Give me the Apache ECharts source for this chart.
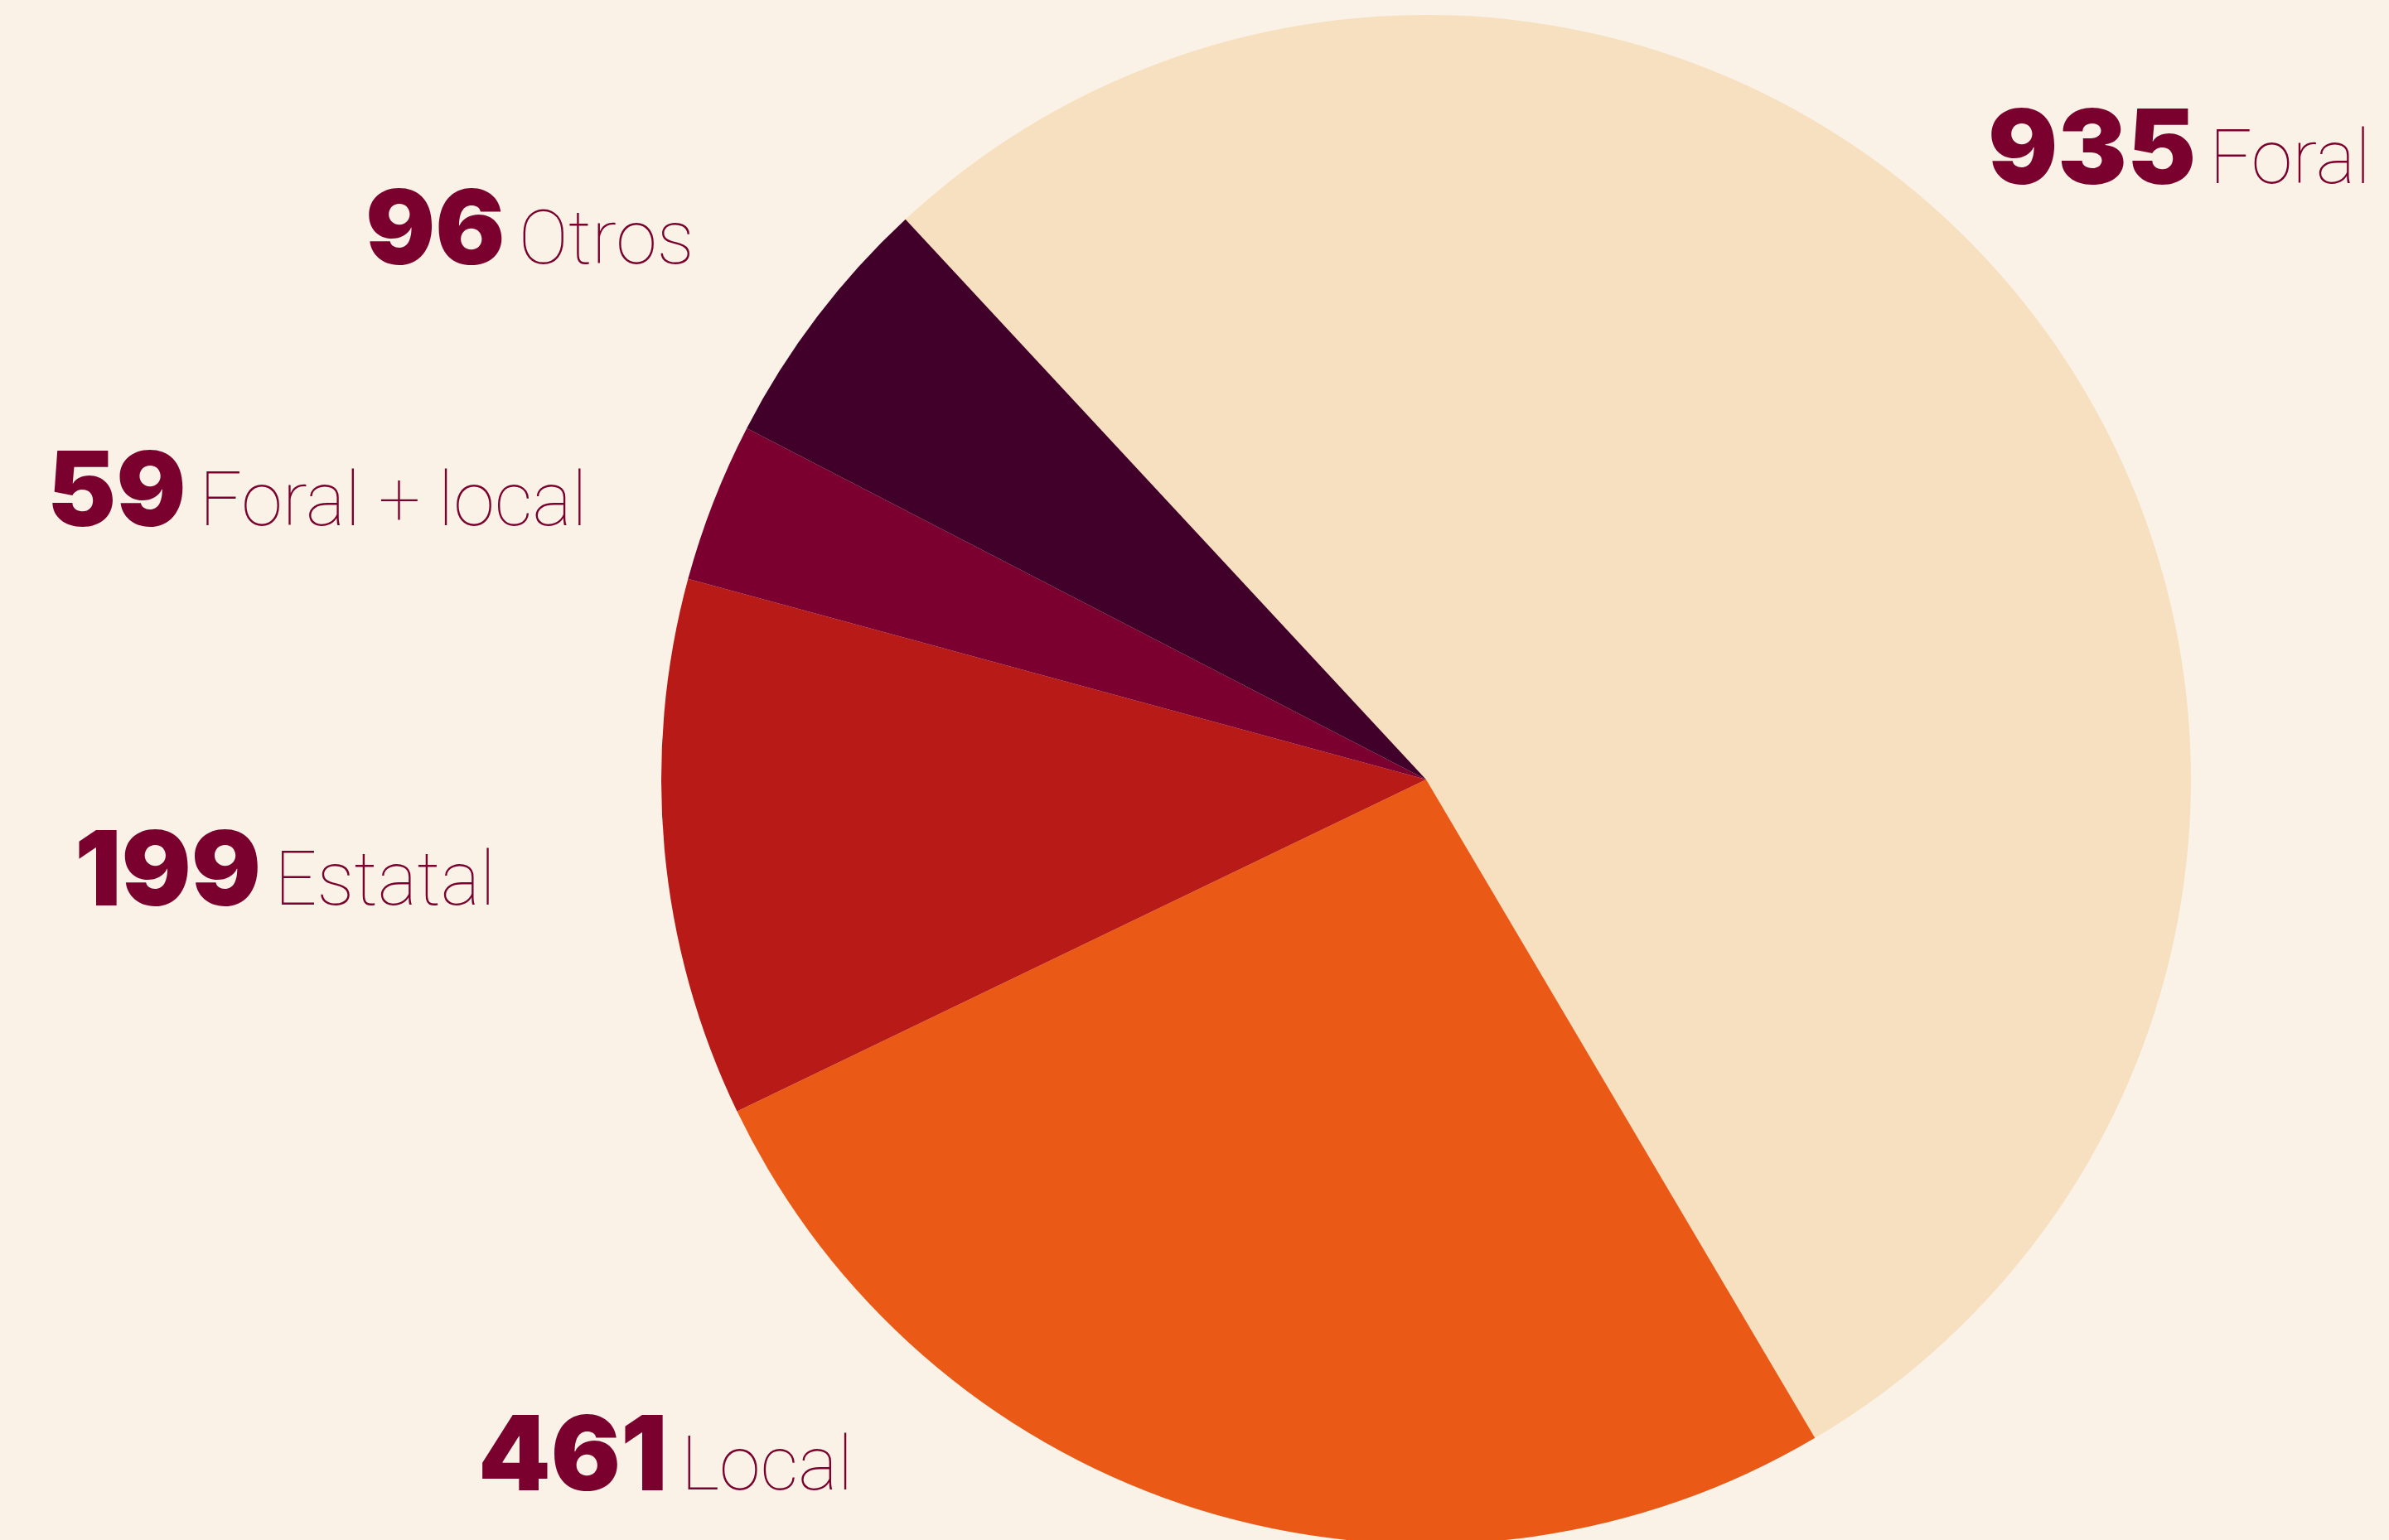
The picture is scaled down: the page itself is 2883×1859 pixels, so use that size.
<!DOCTYPE html>
<html>
<head>
<meta charset="utf-8">
<script src="https://cdn.jsdelivr.net/npm/echarts@6/dist/echarts.min.js"></script>
<style>
  html,body{margin:0;padding:0;background:#faf2e7;}
  #chart{width:2883px;height:1859px;}
</style>
</head>
<body>
<div id="chart"></div>
<script>
// datos
const categories = ['Foral', 'Local', 'Estatal', 'Foral + local', 'Otros']
const values = [935, 461, 199, 59, 96]
const colors = ['#f6e0bf', '#eb5917', '#b71a17', '#7c002f', '#41002a']

// label anchor (left, baseline) per slice
const labelPos = [[2399, 221], [577, 1798], [90, 1092], [57, 634], [441, 318]]

const myChart = echarts.init(document.getElementById('chart'))
myChart.setOption({
  backgroundColor: '#faf2e7',
  animation: false,
  series: [{
    type: 'pie',
    center: [1721, 941],
    radius: 923,
    startAngle: 132.9,
    clockwise: true,
    avoidLabelOverlap: false,
    itemStyle: { borderWidth: 0 },
    labelLine: { show: false },
    label: {
      show: true,
      position: 'outside',
      formatter: (p) => '{v|' + p.value + '}{n|' + p.name + '}',
      rich: {
        v: { fontFamily: 'Inter', fontWeight: 900, fontSize: 125, color: '#7a002e', lineHeight: 128, verticalAlign: 'bottom' },
        n: { fontFamily: 'Roboto', fontWeight: 100, fontSize: 90, color: '#7a002e', lineHeight: 128, verticalAlign: 'bottom', padding: [0, 0, 4, 16] }
      }
    },
    labelLayout: (p) => ({
      x: labelPos[p.dataIndex][0],
      y: labelPos[p.dataIndex][1] + 26,
      align: 'left',
      verticalAlign: 'bottom'
    }),
    data: categories.map((c, i) => ({
      name: c,
      value: values[i],
      itemStyle: { color: colors[i] }
    }))
  }]
})
</script>
</body>
</html>
